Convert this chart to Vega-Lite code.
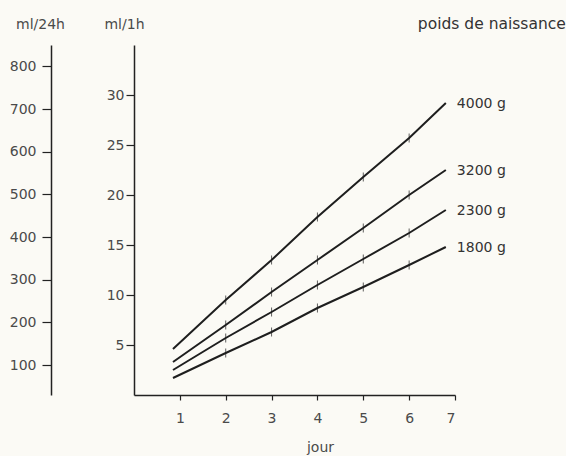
{
  "$schema": "https://vega.github.io/schema/vega-lite/v6.json",
  "width": 321,
  "height": 350,
  "background": "#fbfaf5",
  "padding": {"left": 9, "top": 16, "right": 5, "bottom": 5},
  "config": {
    "view": {"stroke": null},
    "font": "DejaVu Sans",
    "axis": {"grid": false, "domainColor": "#222", "tickColor": "#222", "labelColor": "#4a4a4a", "labelFontSize": 14, "titleFontWeight": "normal", "titleColor": "#4a4a4a", "titleFontSize": 14, "domainWidth": 1.5, "tickWidth": 1.2}
  },
  "title": {"text": "poids de naissance", "anchor": "end", "frame": "bounds", "fontSize": 15.5, "fontWeight": "normal", "color": "#333", "offset": -15, "dx": 60},
  "datasets": {
    "lignes": [
      {"poids": "4000 g", "jour": 0.85, "ml": 4.6, "tick": 0},
      {"poids": "4000 g", "jour": 2, "ml": 9.5, "tick": 1},
      {"poids": "4000 g", "jour": 3, "ml": 13.5, "tick": 1},
      {"poids": "4000 g", "jour": 4, "ml": 17.8, "tick": 1},
      {"poids": "4000 g", "jour": 5, "ml": 21.8, "tick": 1},
      {"poids": "4000 g", "jour": 6, "ml": 25.7, "tick": 1},
      {"poids": "4000 g", "jour": 6.8, "ml": 29.2, "tick": 0},
      {"poids": "3200 g", "jour": 0.85, "ml": 3.3, "tick": 0},
      {"poids": "3200 g", "jour": 2, "ml": 7.0, "tick": 1},
      {"poids": "3200 g", "jour": 3, "ml": 10.3, "tick": 1},
      {"poids": "3200 g", "jour": 4, "ml": 13.5, "tick": 1},
      {"poids": "3200 g", "jour": 5, "ml": 16.7, "tick": 1},
      {"poids": "3200 g", "jour": 6, "ml": 20.0, "tick": 1},
      {"poids": "3200 g", "jour": 6.8, "ml": 22.5, "tick": 0},
      {"poids": "2300 g", "jour": 0.85, "ml": 2.5, "tick": 0},
      {"poids": "2300 g", "jour": 2, "ml": 5.7, "tick": 1},
      {"poids": "2300 g", "jour": 3, "ml": 8.3, "tick": 1},
      {"poids": "2300 g", "jour": 4, "ml": 11.0, "tick": 1},
      {"poids": "2300 g", "jour": 5, "ml": 13.6, "tick": 1},
      {"poids": "2300 g", "jour": 6, "ml": 16.2, "tick": 1},
      {"poids": "2300 g", "jour": 6.8, "ml": 18.5, "tick": 0},
      {"poids": "1800 g", "jour": 0.85, "ml": 1.7, "tick": 0},
      {"poids": "1800 g", "jour": 2, "ml": 4.2, "tick": 1},
      {"poids": "1800 g", "jour": 3, "ml": 6.3, "tick": 1},
      {"poids": "1800 g", "jour": 4, "ml": 8.7, "tick": 1},
      {"poids": "1800 g", "jour": 5, "ml": 10.8, "tick": 1},
      {"poids": "1800 g", "jour": 6, "ml": 13.0, "tick": 1},
      {"poids": "1800 g", "jour": 6.8, "ml": 14.8, "tick": 0}
    ],
    "axe24": [
      {"v": 100}, {"v": 200}, {"v": 300}, {"v": 400}, {"v": 500}, {"v": 600}, {"v": 700}, {"v": 800}
    ]
  },
  "layer": [
    {
      "data": {"name": "lignes"},
      "encoding": {
        "x": {"field": "jour", "type": "quantitative", "scale": {"domain": [0, 7], "nice": false},
          "axis": {"values": [1, 2, 3, 4, 5, 6, 7], "tickSize": 5, "labelPadding": 11, "title": "jour", "titleX": 186, "titleY": 52, "titleBaseline": "middle", "titleAlign": "center"}},
        "y": {"field": "ml", "type": "quantitative", "scale": {"domain": [0, 35], "nice": false},
          "axis": {"values": [5, 10, 15, 20, 25, 30], "tickSize": 8, "labelPadding": 2, "title": "ml/1h", "titleAngle": 0, "titleX": -10, "titleY": -21, "titleAlign": "center", "titleBaseline": "middle"}}
      },
      "layer": [
        {"mark": {"type": "line", "color": "#1e1e1e", "strokeWidth": 2}, "encoding": {"detail": {"field": "poids"}}},
        {"transform": [{"filter": "datum.tick == 1"}], "mark": {"type": "tick", "orient": "vertical", "color": "#1e1e1e", "size": 9, "thickness": 1}},
        {"transform": [{"filter": "datum.jour > 6.5"}], "mark": {"type": "text", "align": "left", "dx": 11, "dy": 1, "fontSize": 14, "color": "#333"}, "encoding": {"text": {"field": "poids"}}}
      ]
    },
    {
      "data": {"name": "axe24"},
      "mark": {"type": "point", "opacity": 0},
      "encoding": {
        "y": {"field": "v", "type": "quantitative", "scale": {"domain": [30, 850], "nice": false},
          "axis": {"orient": "left", "offset": 83, "values": [100, 200, 300, 400, 500, 600, 700, 800], "tickSize": 9, "labelPadding": 6, "title": "ml/24h", "titleAngle": 0, "titleX": -11, "titleY": -21, "titleAlign": "center", "titleBaseline": "middle"}}
      }
    }
  ],
  "resolve": {"scale": {"y": "independent"}}
}
